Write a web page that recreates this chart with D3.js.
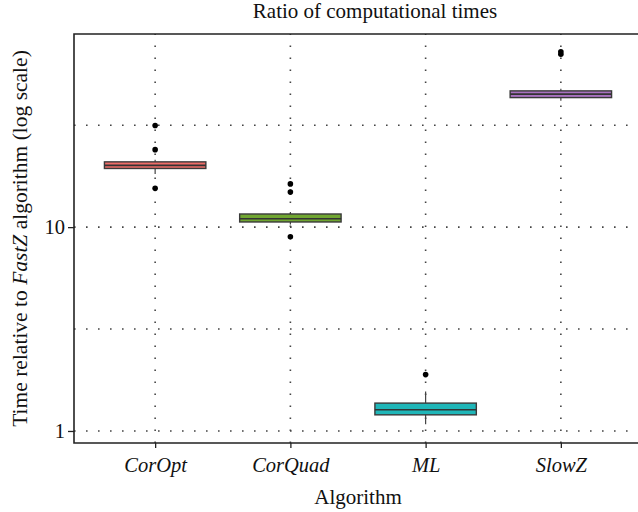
<!DOCTYPE html>
<html lang="en">
<head>
<meta charset="utf-8">
<title>Ratio of computational times</title>
<script src="https://cdn.jsdelivr.net/npm/d3@7"></script>
<style>
  body { margin: 0; background: #fff; }
  text { font-family: "Liberation Serif", "Times New Roman", serif; fill: #111; }
</style>
</head>
<body>
<script>
// box summary per algorithm (ratio of time vs FastZ)
var categories = ["CorOpt", "CorQuad", "ML", "SlowZ"];
var whiskerLow  = [18.2, 10.3, 1.08, 41.7];
var q1          = [19.4, 10.6, 1.20, 43.2];
var median      = [20.1, 11.0, 1.27, 44.9];
var q3          = [20.9, 11.6, 1.37, 46.6];
var whiskerHigh = [21.4, 11.85, 1.56, 47.8];
var outliers    = [[31.5, 24.0, 15.5], [16.3, 14.85, 8.96], [1.89], [70.5, 72.5]];
var colors      = ["#ee6d68", "#70a631", "#1fb6b8", "#a872bf"];

var majorTicks = [1, 10];
var minorTicks = [Math.sqrt(10), Math.sqrt(1000)];

var w = 638, h = 512;
// plot panel edges (note: "top" is reserved by window, so use pTop)
var pLeft = 74, pRight = 642, pTop = 34, pBottom = 443;

var svg = d3.select("body").append("svg")
  .attr("width", w)
  .attr("height", h);

var x = d3.scalePoint()
  .domain(categories)
  .range([pLeft, pRight])
  .padding(0.6);

var y = d3.scaleLog()
  .domain([0.873, 88.6])
  .range([pBottom, pTop]);

var boxW = x.step() * 0.75;

// grid
var grid = svg.append("g")
  .attr("stroke", "#444")
  .attr("stroke-width", 1.6)
  .attr("stroke-dasharray", "1.6,10.4");

grid.selectAll(".hg")
  .data(majorTicks.concat(minorTicks))
  .enter().append("line")
  .attr("x1", pLeft).attr("x2", pRight)
  .attr("y1", function(d){ return y(d); })
  .attr("y2", function(d){ return y(d); });

grid.selectAll(".vg")
  .data(categories)
  .enter().append("line")
  .attr("y1", pBottom).attr("y2", pTop)
  .attr("x1", function(d){ return x(d); })
  .attr("x2", function(d){ return x(d); });

// boxes
var data = categories.map(function(c, i){
  return { cat: c, lo: whiskerLow[i], q1: q1[i], med: median[i], q3: q3[i], hi: whiskerHigh[i], out: outliers[i], color: colors[i] };
});

var g = svg.selectAll(".box")
  .data(data)
  .enter().append("g");

g.append("line")
  .attr("x1", function(d){ return x(d.cat); })
  .attr("x2", function(d){ return x(d.cat); })
  .attr("y1", function(d){ return y(d.hi); })
  .attr("y2", function(d){ return y(d.lo); })
  .attr("stroke", "#444")
  .attr("stroke-width", 1.2);

g.append("rect")
  .attr("x", function(d){ return x(d.cat) - boxW / 2; })
  .attr("width", boxW)
  .attr("y", function(d){ return y(d.q3); })
  .attr("height", function(d){ return y(d.q1) - y(d.q3); })
  .attr("fill", function(d){ return d.color; })
  .attr("stroke", "#3a3a3a")
  .attr("stroke-width", 1.4);

g.append("line")
  .attr("x1", function(d){ return x(d.cat) - boxW / 2; })
  .attr("x2", function(d){ return x(d.cat) + boxW / 2; })
  .attr("y1", function(d){ return y(d.med); })
  .attr("y2", function(d){ return y(d.med); })
  .attr("stroke", "#333")
  .attr("stroke-width", 1.6);

g.selectAll("circle")
  .data(function(d){ return d.out.map(function(v){ return { cat: d.cat, v: v }; }); })
  .enter().append("circle")
  .attr("cx", function(d){ return x(d.cat); })
  .attr("cy", function(d){ return y(d.v); })
  .attr("r", 2.8)
  .attr("fill", "#000");

// frame (left, top, bottom)
svg.append("path")
  .attr("d", "M" + w + "," + pTop + "H" + pLeft + "V" + pBottom + "H" + w)
  .attr("fill", "none")
  .attr("stroke", "#222")
  .attr("stroke-width", 1.6);

// axes
var yAxis = svg.append("g")
  .attr("transform", "translate(" + pLeft + ",0)")
  .call(d3.axisLeft(y).tickValues(majorTicks).tickFormat(d3.format("d")).tickSize(6).tickPadding(3));
yAxis.select(".domain").remove();
yAxis.selectAll("text").attr("font-size", 20.5).attr("fill", "#111")
  .style("font-family", "Liberation Serif");
yAxis.selectAll("line").attr("stroke", "#222").attr("stroke-width", 1.3);

var xAxis = svg.append("g")
  .attr("transform", "translate(0," + pBottom + ")")
  .call(d3.axisBottom(x).tickSize(5).tickPadding(9));
xAxis.select(".domain").remove();
xAxis.selectAll("text").attr("font-size", 20.5).attr("font-style", "italic").attr("fill", "#111")
  .style("font-family", "Liberation Serif");
xAxis.selectAll("line").attr("stroke", "#222").attr("stroke-width", 1.3);

// titles
svg.append("text")
  .attr("x", 375).attr("y", 18)
  .attr("text-anchor", "middle")
  .attr("font-size", 21)
  .text("Ratio of computational times");

svg.append("text")
  .attr("x", 358).attr("y", 504)
  .attr("text-anchor", "middle")
  .attr("font-size", 21)
  .text("Algorithm");

var yl = svg.append("text")
  .attr("transform", "translate(27," + ((pTop + pBottom) / 2) + ") rotate(-90)")
  .attr("text-anchor", "middle")
  .attr("font-size", 21.5);
yl.append("tspan").text("Time relative to ");
yl.append("tspan").attr("font-style", "italic").text("FastZ");
yl.append("tspan").text(" algorithm (log scale)");
</script>
</body>
</html>
